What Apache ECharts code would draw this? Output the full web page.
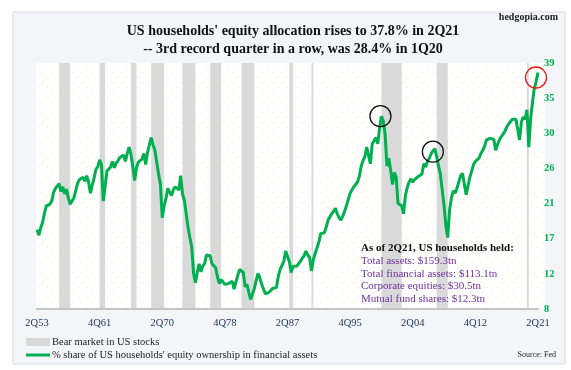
<!DOCTYPE html>
<html><head><meta charset="utf-8">
<script src="https://cdn.jsdelivr.net/npm/echarts@6/dist/echarts.min.js"></script>
<style>html,body{margin:0;padding:0;background:#fff}#c{width:571px;height:370px}</style>
</head><body><div id="c"></div>
<script>
// quarterly categories 2Q53 .. 2Q21
const quarters = [];
for (let y = 1953, q = 2; y < 2021 || (y === 2021 && q <= 2);) {
  quarters.push(q + 'Q' + String(y % 100).padStart(2, '0'));
  q++; if (q > 4) { q = 1; y++; }
}
const xTickLabels = ['2Q53','4Q61','2Q70','4Q78','2Q87','4Q95','2Q04','4Q12','2Q21'];
const yTickLabels = ['8','12','17','21','26','30','35','39'];

// % share of US households' equity ownership in financial assets
const share = [
  18.0, 17.3, 18.2, 18.9, 20.0, 21.0, 21.2, 21.2, 21.6, 22.7,
  23.2, 23.4, 23.8, 22.8, 23.4, 22.5, 23.1, 22.0, 21.2, 21.3,
  22.0, 22.9, 23.8, 24.3, 24.4, 24.6, 24.1, 24.8, 24.0, 22.6,
  23.6, 24.5, 25.6, 25.9, 26.8, 26.2, 21.6, 21.8, 25.4, 25.6,
  25.9, 26.6, 25.8, 26.4, 26.7, 27.1, 27.3, 27.4, 26.6, 27.6,
  28.4, 27.5, 26.0, 24.2, 25.8, 26.5, 26.6, 26.9, 27.6, 26.2,
  27.7, 27.9, 29.6, 28.7, 28.0, 26.5, 25.0, 23.7, 19.5, 21.0,
  21.9, 23.2, 23.3, 22.3, 23.0, 23.4, 23.2, 23.0, 24.8, 22.5,
  21.7, 21.6, 18.3, 17.0, 15.8, 12.5, 11.3, 12.6, 13.7, 12.7,
  13.4, 13.7, 14.8, 14.8, 14.7, 13.7, 13.5, 13.2, 12.0, 11.2,
  11.7, 11.5, 11.1, 11.3, 11.2, 11.4, 11.5, 10.5, 11.4, 12.2,
  13.0, 13.0, 12.6, 10.8, 11.1, 10.1, 9.2, 9.2, 10.6, 11.6,
  12.5, 11.9, 11.1, 10.5, 9.9, 10.0, 10.1, 9.9, 10.6, 10.8,
  10.7, 12.1, 13.0, 12.8, 14.0, 15.3, 15.1, 14.0, 12.6, 13.4,
  13.4, 13.4, 13.7, 14.0, 14.4, 14.7, 15.3, 14.8, 14.5, 12.8,
  14.2, 15.0, 15.2, 16.4, 17.5, 17.7, 17.6, 18.3, 19.2, 19.6,
  20.0, 20.3, 20.7, 20.0, 19.5, 19.2, 19.7, 20.3, 21.0, 21.8,
  22.6, 23.0, 23.4, 23.5, 24.0, 24.7, 26.0, 26.7, 27.2, 28.4,
  28.5, 26.3, 28.8, 29.0, 29.6, 28.8, 30.8, 32.3, 31.7, 30.0,
  26.0, 27.0, 25.5, 23.7, 25.2, 24.6, 21.3, 21.1, 21.0, 20.0,
  22.3, 23.3, 24.0, 24.4, 24.0, 24.3, 24.4, 24.7, 24.9, 25.0,
  26.3, 25.9, 26.6, 27.0, 27.6, 27.8, 28.2, 27.2, 26.0, 25.0,
  23.0, 21.0, 18.5, 17.0, 20.5, 22.0, 22.9, 22.6, 23.2, 24.0,
  24.8, 25.1, 25.2, 22.4, 23.5, 24.6, 24.8, 26.2, 26.6, 26.7,
  27.0, 27.6, 28.0, 28.5, 29.3, 29.1, 29.5, 29.6, 29.4, 28.0,
  28.7, 29.3, 29.7, 30.0, 30.4, 30.9, 31.3, 31.6, 31.9, 31.7,
  31.9, 32.0, 29.3, 31.6, 32.2, 31.9, 33.1, 28.4, 32.0, 34.0,
  35.8, 36.7, 37.8
];

// bear markets in US stocks (start quarter, end quarter)
const bearMarkets = [
  ['2Q56','4Q57'], ['4Q61','3Q62'], ['1Q66','4Q66'], ['4Q68','3Q70'],
  ['1Q73','4Q74'], ['4Q76','2Q78'], ['1Q81','4Q82'], ['3Q87','1Q88'],
  ['3Q90','4Q90'], ['1Q00','4Q02'], ['3Q07','1Q09'], ['4Q19','1Q20']
];

// circled quarters
const circled = [
  { q: '1Q00', color: '#111111' },
  { q: '2Q07', color: '#111111' },
  { q: '2Q21', color: '#e0201b' }
];

const infoLines = [
  'Total assets: $159.3tn',
  'Total financial assets: $113.1tn',
  'Corporate equities: $30.5tn',
  'Mutual fund shares: $12.3tn'
];

const SERIF = '"Liberation Serif", "DejaVu Serif", serif';
const GREEN = '#00B050';

const dot = document.createElement('canvas');
dot.width = 10; dot.height = 10;
const g = dot.getContext('2d');
g.fillStyle = '#ffffff'; g.fillRect(0, 0, 10, 10);
g.fillStyle = '#f2f3c2';
g.beginPath(); g.arc(2.5, 2.5, 0.8, 0, 7); g.fill();
g.beginPath(); g.arc(7.5, 7.5, 0.8, 0, 7); g.fill();

const yMin = 8, yMax = 39;
const yTickValues = yTickLabels.map((_, k) => yMin + k * (yMax - yMin) / (yTickLabels.length - 1));

const chart = echarts.init(document.getElementById('c'), null, { renderer: 'canvas', width: 571, height: 370 });

const graphics = [
  { type: 'rect', z: 0, shape: { x: 13, y: 12, width: 552, height: 352 }, style: { fill: '#f4f5f8', stroke: '#d6dee6', lineWidth: 1 } },
  { type: 'rect', z: 0, shape: { x: 36, y: 63, width: 509, height: 245 }, style: { fill: { image: dot, repeat: 'repeat' } } },
  { type: 'text', z: 1, x: 558, y: 17, style: { text: 'hedgopia.com', font: 'bold 10px ' + SERIF, fill: '#222', align: 'right', verticalAlign: 'middle' } },
  { type: 'text', z: 1, x: 293, y: 31, style: { text: "US households' equity allocation rises to 37.8% in 2Q21", font: 'bold 14px ' + SERIF, fill: '#111', align: 'center', verticalAlign: 'middle' } },
  { type: 'text', z: 1, x: 293, y: 49, style: { text: '-- 3rd record quarter in a row, was 28.4% in 1Q20', font: 'bold 14px ' + SERIF, fill: '#111', align: 'center', verticalAlign: 'middle' } },
  { type: 'text', z: 5, x: 361, y: 248, style: { text: 'As of 2Q21, US households held:', font: 'bold 11px ' + SERIF, fill: '#111', align: 'left', verticalAlign: 'middle' } },
  // legend
  { type: 'rect', z: 1, shape: { x: 26, y: 338, width: 24, height: 8 }, style: { fill: '#d9d9d9' } },
  { type: 'text', z: 1, x: 52, y: 342, style: { text: 'Bear market in US stocks', font: '10.5px ' + SERIF, fill: '#222', align: 'left', verticalAlign: 'middle' } },
  { type: 'line', z: 1, shape: { x1: 26, y1: 355, x2: 50, y2: 355 }, style: { stroke: GREEN, lineWidth: 3 } },
  { type: 'text', z: 1, x: 52, y: 355, style: { text: "% share of US households' equity ownership in financial assets", font: '10.5px ' + SERIF, fill: '#222', align: 'left', verticalAlign: 'middle' } },
  { type: 'text', z: 1, x: 556, y: 355, style: { text: 'Source: Fed', font: '8px ' + SERIF, fill: '#222', align: 'right', verticalAlign: 'middle' } }
];
infoLines.forEach((t, k) => {
  graphics.push({ type: 'text', z: 5, x: 361, y: 261 + k * 12.7, style: { text: t, font: '11px ' + SERIF, fill: '#7030A0', align: 'left', verticalAlign: 'middle' } });
});

chart.setOption({
  animation: false,
  backgroundColor: '#ffffff',
  graphic: graphics,
  grid: { left: 37, right: 33, top: 63, bottom: 61, containLabel: false },
  xAxis: {
    type: 'category', data: quarters, boundaryGap: false, z: 3,
    axisLine: { show: true, lineStyle: { color: '#c4c4c4', width: 2 } },
    axisTick: { show: false },
    splitLine: { show: false },
    axisLabel: {
      interval: (idx, val) => xTickLabels.includes(val),
      color: '#1F3864', fontFamily: SERIF, fontSize: 10.5, margin: 9
    }
  },
  yAxis: {
    type: 'value', position: 'right', min: yMin, max: yMax,
    axisLine: { show: false }, axisTick: { show: false }, splitLine: { show: false },
    axisLabel: {
      customValues: yTickValues,
      formatter: v => { const k = yTickValues.findIndex(t => Math.abs(t - v) < 0.01); return k >= 0 ? yTickLabels[k] : ''; },
      color: GREEN, fontFamily: SERIF, fontWeight: 'bold', fontSize: 10.5, margin: 6
    }
  },
  series: [{
    type: 'line', data: share, symbol: 'none', z: 3,
    lineStyle: { color: GREEN, width: 3 },
    markArea: {
      silent: true,
      itemStyle: { color: '#d9d9d9' },
      data: bearMarkets.map(b => [{ xAxis: b[0] }, { xAxis: b[1] }])
    },
    markPoint: {
      silent: true,
      symbol: 'circle', symbolSize: 21,
      label: { show: false },
      data: circled.map(c => {
        const i = quarters.indexOf(c.q);
        return {
          coord: [c.q, share[i]],
          symbolOffset: c.q === '2Q21' ? [-2, 5] : (c.q === '2Q07' ? [-2, 3] : [-1, 0]),
          itemStyle: { color: 'rgba(0,0,0,0)', borderColor: c.color, borderWidth: 1.3 }
        };
      })
    }
  }]
});
</script>
</body></html>
